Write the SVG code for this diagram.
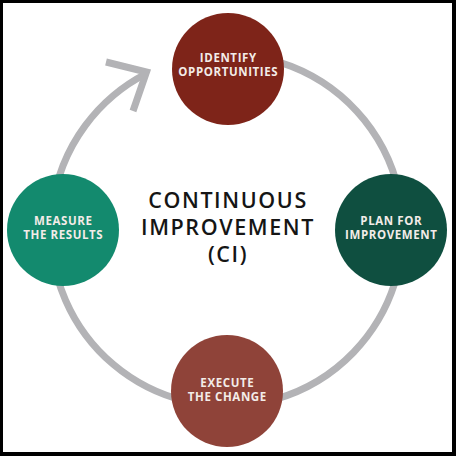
<svg xmlns="http://www.w3.org/2000/svg" width="456" height="456" viewBox="0 0 456 456">
<style>
.ring{fill:none;stroke:#b3b3b6;stroke-width:7}
.lbl{font-family:"Open Sans","Liberation Sans",sans-serif;font-weight:700;font-size:11.5px;fill:#f3ece8;text-anchor:middle;letter-spacing:0.6px}
.title{font-family:"Open Sans","Liberation Sans",sans-serif;font-weight:600;font-size:21.5px;fill:#151515;text-anchor:middle;letter-spacing:1.6px}
</style>
<rect x="0" y="0" width="456" height="456" fill="#ffffff"/>
<g id="connectors">
<path class="ring" d="M211.7,54.7 A176,176 0 1 1 146.5,73.5"/>
<path class="ring" d="M106,62 L146.5,72 L133,111" stroke-linejoin="miter" stroke-miterlimit="10"/>
</g>
<g id="identify">
<circle cx="228" cy="69" r="56" fill="#7e2419"/>
<text class="lbl" x="228.3" y="62">IDENTIFY</text>
<text class="lbl" x="228.3" y="76">OPPORTUNITIES</text>
</g>
<g id="plan">
<circle cx="391" cy="230" r="56" fill="#0f4f40"/>
<text class="lbl" x="391.3" y="225">PLAN FOR</text>
<text class="lbl" x="391.3" y="239">IMPROVEMENT</text>
</g>
<g id="execute">
<circle cx="227" cy="391" r="56" fill="#8f4339"/>
<text class="lbl" x="227.3" y="387">EXECUTE</text>
<text class="lbl" x="227.3" y="401">THE CHANGE</text>
</g>
<g id="measure">
<circle cx="63" cy="230" r="56" fill="#138a6e"/>
<text class="lbl" x="63.3" y="225">MEASURE</text>
<text class="lbl" x="63.3" y="239">THE RESULTS</text>
</g>
<g id="center">
<text class="title" x="228" y="207.5">CONTINUOUS</text>
<text class="title" x="228" y="234.5">IMPROVEMENT</text>
<text class="title" x="228" y="262">(CI)</text>
</g>
<path d="M0,0H456V456H0Z M3,3V452H452V3Z" fill="#000" fill-rule="evenodd"/>
</svg>
